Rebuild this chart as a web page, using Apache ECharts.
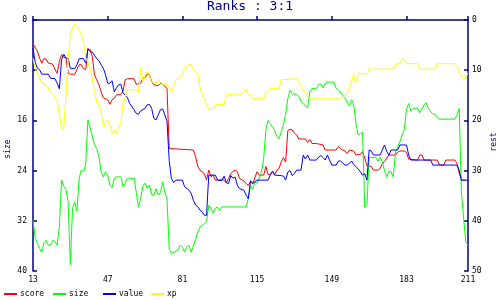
<!DOCTYPE html>
<html>
<head>
<meta charset="utf-8">
<script src="https://cdn.jsdelivr.net/npm/echarts@6/dist/echarts.min.js"></script>
<style>html,body{margin:0;padding:0;background:#fff}#c{width:500px;height:300px}</style>
</head>
<body>
<div id="c"></div>
<script>
var titleText = 'Ranks : 3:1';
var seriesNames = ['score', 'size', 'value', 'xp'];
var xTicks = [13, 211, 34]; // min, max, interval

var score = [[13,4.8],[15,6.2],[16,7.6],[17,8.6],[18,7.7],[19,7.8],[20,8.6],[22,8.8],[23,9.9],[24,10.6],[25,8.3],[26,6.9],[27,7.4],[28,7.6],[29,10.6],[30,10.8],[32,10.8],[33,9.9],[34,8.9],[35,8.9],[36,9.7],[37,9.9],[38,5.8],[39,5.9],[40,7.3],[41,10.9],[42,11.9],[43,12.9],[44,14.3],[45,15.5],[47,15.9],[48,16.8],[49,15.9],[50,15.6],[51,14.9],[53,14.9],[54,14.1],[55,11.9],[56,11.7],[59,11.7],[60,12.8],
[62,12.6],[63,11.6],[64,11.5],[65,10.8],[66,10.9],[67,12.3],[68,12.9],[70,13.1],[71,12.6],[72,12.8],[73,13.2],[74,13.6],[75,25.6],[86,25.9],[87,27.2],[88,29.2],[89,29.9],[91,30.6],[92,31.9],[93,29.9],[94,31.2],[95,30.9],[96,31.9],[98,31.9],[99,31.6],[100,32.0],[101,32.4],[102,31.6],[103,30.6],[104,30.2],[105,29.9],[106,30.2],[107,31.6],[109,32.0],[110,32.6],[111,32.9],
[112,32.2],[113,32.6],[115,30.2],[116,30.9],[118,30.9],[119,29.2],[120,30.8],[121,30.8],[122,30.2],[123,30.8],[124,29.9],[125,29.6],[126,28.2],[127,27.4],[128,28.3],[129,22.0],[130,21.8],[131,21.9],[132,22.6],[133,22.9],[134,23.7],[137,23.7],[138,24.4],[139,23.8],[140,24.6],[142,24.6],[145,24.9],[146,25.9],[151,25.9],[152,25.2],[153,25.7],[155,26.1],[156,26.6],[157,25.9],[159,26.1],[160,26.9],
[161,26.8],[162,26.8],[163,26.2],[164,27.5],[165,29.0],[167,29.2],[168,29.9],[170,29.9],[171,29.6],[172,28.6],[173,28.2],[175,26.9],[178,26.9],[179,26.3],[180,26.1],[182,26.1],[183,26.4],[184,27.7],[188,27.9],[189,26.9],[190,26.9],[191,27.9],[197,27.9],[198,28.9],[200,28.9],[201,27.9],[205,27.9],[206,28.6],[207,30.5],[208,31.9],[210,31.9]];

var size = [[13,31.9],[14,34.8],[15,35.6],[16,36.4],[17,37.0],[18,35.5],[19,35.1],[20,35.9],[21,35.9],[22,35.1],[23,35.3],[24,35.9],[25,33.0],[26,25.5],[27,26.5],[28,27.0],[29,29.0],[30,39.0],[31,30.0],[32,29.0],[33,30.5],[34,25.2],[35,23.9],[36,24.2],[37,23.0],[38,15.9],[39,17.2],[40,18.5],[41,19.9],[42,20.5],[43,21.8],[44,24.2],[45,25.0],[46,24.2],[47,24.7],[48,26.3],[49,26.7],[50,25.2],[51,25.0],[53,25.0],[54,26.6],[55,26.0],[56,25.2],[57,25.2],[58,25.3],[59,25.2],[60,27.5],[61,29.8],[62,28.5],
[63,26.5],[64,26.0],[65,26.8],[66,26.3],[67,27.8],[68,27.9],[69,26.9],[70,27.9],[71,27.5],[72,25.8],[73,27.4],[74,28.5],[75,36.5],[76,37.2],[79,36.7],[80,35.9],[81,36.2],[82,37.0],[83,36.2],[84,35.9],[85,37.0],[86,36.0],[87,35.0],[88,33.8],[89,33.0],[92,32.2],[93,29.5],[94,30.0],[95,30.8],[96,30.0],[97,29.8],[98,30.4],[99,29.8],[110,29.8],[111,28.5],
[112,26.3],[113,27.0],[114,25.8],[115,26.0],[116,25.2],[117,24.2],[118,22.1],[119,17.5],[120,16.0],[121,16.5],[122,17.0],[123,17.6],[124,18.6],[125,18.9],[126,17.8],[127,16.7],[128,15.0],[129,12.5],[130,11.2],[131,11.8],[133,11.8],[134,12.2],[135,13.0],[136,13.3],[137,13.8],[138,14.0],[139,11.4],[140,10.9],[142,10.9],[143,10.3],[144,10.2],[145,10.8],[146,10.1],[147,9.9],[150,9.9],[151,10.9],[152,11.1],[154,12.0],[155,12.5],[156,13.0],[157,13.7],[158,12.7],[159,13.5],[160,16.5],
[161,18.3],[162,18.1],[163,17.9],[164,29.9],[165,29.5],[166,21.9],[169,21.9],[170,22.5],[171,21.9],[172,22.6],[173,24.0],[174,25.0],[175,24.1],[176,24.2],[177,25.0],[178,21.0],[179,20.2],[180,19.4],[181,18.3],[182,17.5],[183,14.2],[184,13.3],[185,14.5],[186,14.1],[188,14.0],[189,14.8],[190,14.2],[191,13.5],[192,13.2],[193,14.2],[195,15.0],[196,15.0],[197,15.5],[198,15.8],[205,15.8],[206,15.1],[207,14.1],[208,27.4],[209,31.6],[210,35.4],[211,35.9]];

var value = [[13,5.6],[14,8.4],[15,9.6],[16,9.9],[17,10.8],[20,10.8],[21,11.6],[23,11.7],[24,12.6],[25,13.7],[26,7.9],[27,6.8],[28,7.6],[29,7.6],[30,9.6],[32,9.7],[33,8.9],[34,7.7],[36,7.7],[37,8.6],[38,5.7],[39,6.3],[40,6.4],[42,7.7],[43,8.1],[44,8.9],[45,9.6],[46,10.9],[47,12.6],[48,12.6],[49,12.1],[50,14.3],[51,13.5],[52,12.9],[53,12.8],[54,14.5],[56,15.5],[57,16.6],[59,17.9],[60,18.6],
[61,18.8],[62,18.1],[64,17.6],[65,16.9],[66,16.8],[67,17.6],[68,19.6],[69,19.9],[70,18.9],[71,17.9],[72,17.7],[73,18.9],[74,20.2],[75,28.0],[76,31.6],[77,32.4],[78,31.9],[81,31.9],[82,33.2],[84,33.9],[85,34.5],[86,35.9],[87,36.9],[88,37.2],[89,37.9],[90,38.2],[91,38.9],[92,38.9],[93,30.9],[96,30.9],[97,31.9],[99,32.0],[100,31.1],[101,32.4],[102,32.6],[103,31.0],[104,31.5],[105,31.3],[106,32.9],[107,33.6],[109,33.9],[110,34.9],[111,35.6],
[112,32.0],[113,32.6],[114,32.2],[115,31.9],[120,31.9],[121,30.9],[122,30.1],[123,30.9],[126,31.0],[127,31.1],[128,31.9],[129,30.3],[130,30.0],[131,31.0],[132,30.6],[133,29.9],[135,29.9],[136,26.9],[137,27.7],[138,26.9],[139,27.9],[142,27.9],[143,27.3],[144,27.0],[145,27.4],[146,27.9],[147,26.9],[148,27.9],[149,28.9],[151,28.9],[152,28.1],[153,28.1],[155,28.9],[156,28.9],[157,28.6],[158,28.1],[159,28.8],[160,29.2],
[161,29.7],[162,30.2],[163,30.9],[164,30.6],[165,31.9],[166,25.9],[167,26.1],[168,26.9],[171,26.9],[172,25.9],[173,24.9],[174,26.2],[175,26.9],[176,25.9],[179,25.9],[180,24.9],[183,24.9],[184,26.9],[185,27.9],[194,27.9],[195,28.9],[206,28.9],[207,29.9],[208,31.9],[211,31.9]];

var xp = [[13,7.6],[14,9.6],[17,12.6],[19,12.9],[21,14.3],[23,15.3],[24,16.0],[25,18.9],[26,21.6],[27,21.6],[28,15.0],[29,7.6],[30,2.9],[31,1.6],[32,0.8],[34,1.9],[35,2.8],[36,4.5],[37,7.5],[39,9.6],[40,11.6],[41,14.3],[42,16.3],[43,17.0],[44,18.3],[45,21.2],[46,20.5],[47,19.9],[48,20.9],[49,22.6],[50,21.9],[51,22.6],[52,21.6],[53,20.6],[54,16.5],[56,13.9],[60,13.9],
[61,14.4],[62,9.6],[63,12.3],[64,11.0],[65,10.2],[66,11.0],[67,12.5],[68,12.2],[69,12.6],[70,11.9],[71,12.3],[72,12.9],[74,12.9],[75,13.6],[76,14.3],[77,13.3],[78,11.9],[80,11.6],[81,10.9],[82,9.6],[84,8.9],[85,8.9],[86,9.9],[88,10.8],[89,13.5],[91,15.9],[92,16.9],[93,17.8],[95,17.8],[96,16.9],[100,16.8],[101,14.8],[108,14.8],[109,14.3],[110,13.7],[111,14.8],
[112,14.8],[113,15.7],[118,15.7],[119,14.3],[120,14.2],[121,13.7],[125,13.7],[126,11.9],[133,11.7],[134,12.3],[135,13.0],[136,13.8],[137,14.6],[138,15.3],[139,15.7],[153,15.7],[154,15.3],[156,14.6],[157,13.5],[158,12.3],[159,10.9],[160,12.4],[161,10.7],
[165,10.7],[166,9.8],[177,9.8],[178,8.9],[180,8.6],[181,7.8],[182,7.9],[183,8.7],[188,8.7],[189,9.8],[196,9.8],[197,8.7],[205,8.7],[206,9.2],[207,10.3],[209,11.8],[210,11.5],[211,10.5]];

var seriesData = [score, size, value, xp];
var seriesColors = ['#ff0000', '#00ff00', '#0000ff', '#ffff00'];
var seriesAxis = [1, 0, 1, 1];
var legendLeft = [4, 53, 103, 151];

var navy = '#000080';
var mono = 'DejaVu Sans Mono';

var chart = echarts.init(document.getElementById('c'), null, {renderer: 'canvas'});

var legends = seriesNames.map(function (n, i) {
  return {
    data: [n], left: legendLeft[i], top: 290, orient: 'horizontal',
    icon: 'rect', itemWidth: 13, itemHeight: 2, itemGap: 0, padding: 0,
    textStyle: {fontFamily: mono, fontSize: 8, color: '#000', padding: [0, 0, 0, -2]}
  };
});

function yAx(name, max, interval, pos, gap, pad) {
  return {
    type: 'value', name: name, position: pos, min: 0, max: max, interval: interval, inverse: true,
    nameLocation: 'middle', nameRotate: 90, nameGap: gap, nameMoveOverlap: false,
    nameTextStyle: {fontFamily: mono, fontSize: 8, color: navy, padding: pad},
    axisLine: {show: true, lineStyle: {color: navy, width: 1.5}},
    axisTick: {show: true, inside: true, length: 4, lineStyle: {color: navy, width: 1.5}},
    axisLabel: {fontFamily: mono, fontSize: 8, color: '#000', margin: pos === 'left' ? 6 : 4},
    splitLine: {show: false}
  };
}

chart.setOption({
  animation: false,
  backgroundColor: '#fff',
  title: {text: titleText, left: 'center', top: 0, padding: 0,
    textStyle: {fontFamily: mono, fontSize: 13, fontWeight: 'normal', color: navy}},
  legend: legends,
  grid: {left: 33, right: 32, top: 20, bottom: 29, containLabel: false, outerBoundsMode: 'none'},
  xAxis: {
    type: 'value', min: xTicks[0], max: xTicks[1], interval: xTicks[2],
    axisLine: {show: true, lineStyle: {color: navy, width: 1.5}},
    axisTick: {show: true, inside: true, length: 4, lineStyle: {color: navy, width: 1.5}},
    axisLabel: {fontFamily: mono, fontSize: 8, color: '#000', margin: 5, showMaxLabel: true, showMinLabel: true},
    splitLine: {show: false}
  },
  yAxis: [yAx('size', 40, 8, 'left', 21, [0, 7, 0, 0]), yAx('rest', 50, 10, 'right', 22, [0, 0, 0, 7])],
  series: seriesNames.map(function (n, i) {
    return {
      name: n, type: 'line', data: seriesData[i], yAxisIndex: seriesAxis[i],
      showSymbol: false, symbol: 'none', color: seriesColors[i],
      lineStyle: {width: 1, color: seriesColors[i]}
    };
  })
});
</script>
</body>
</html>
